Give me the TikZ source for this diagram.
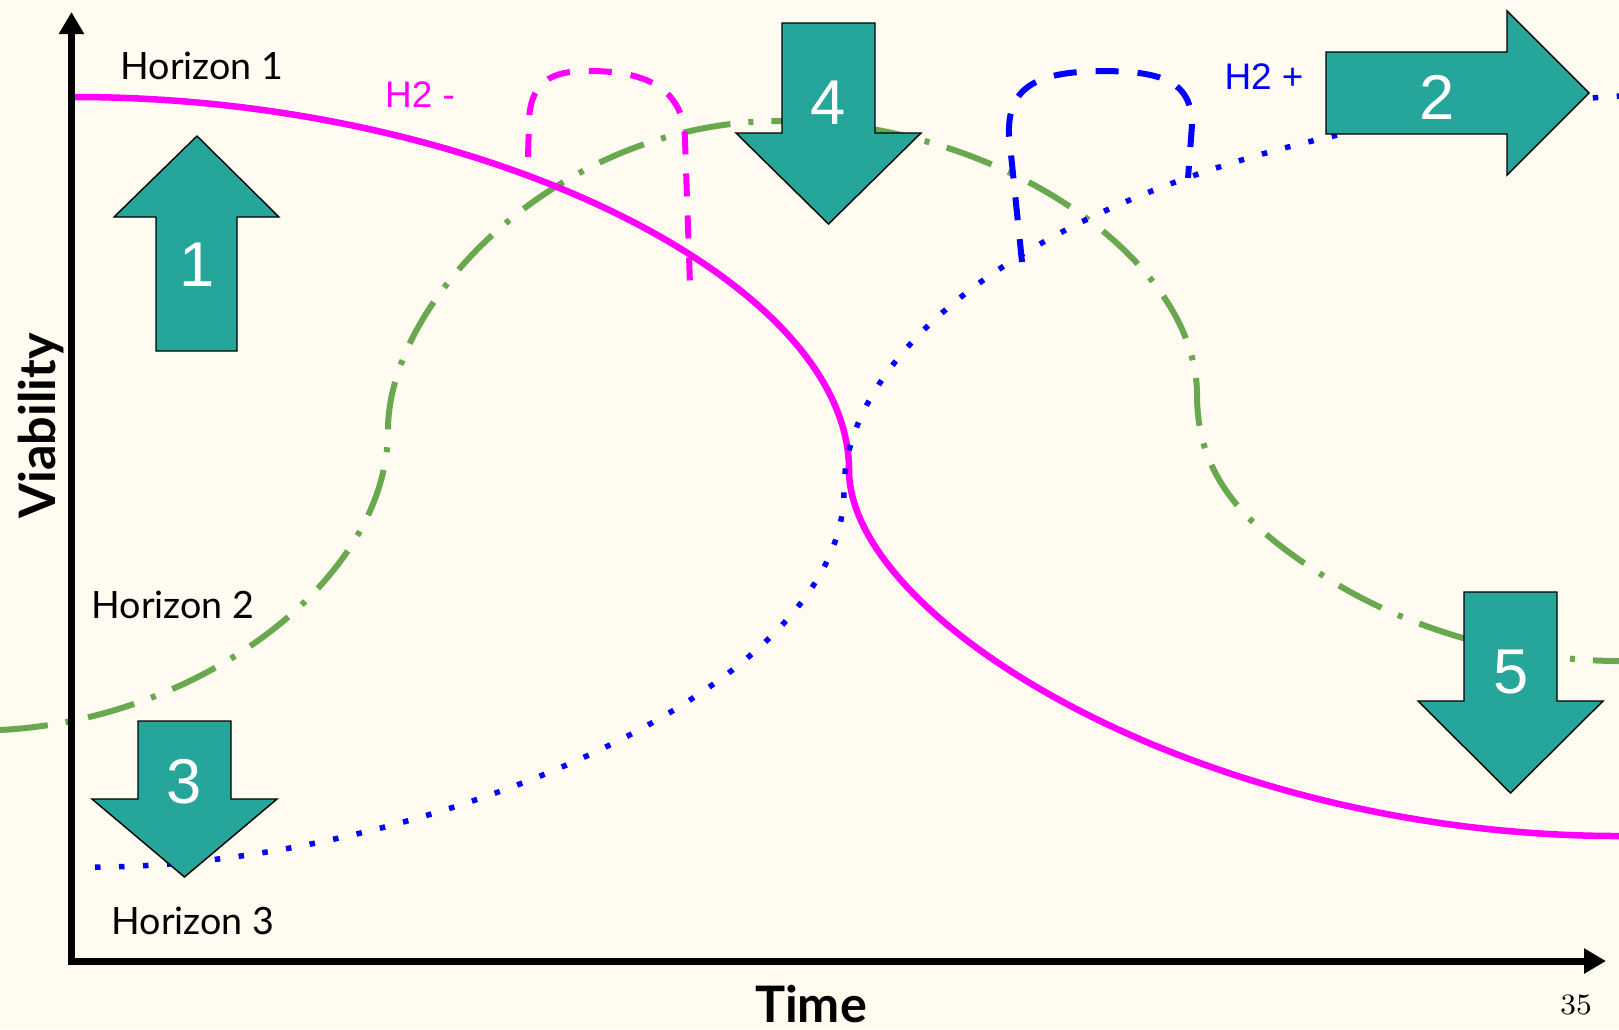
\documentclass[tikz,border=0pt]{standalone}
\usepackage{fontspec}
\usepackage{xcolor}
\usepackage{tikz}
\usetikzlibrary{arrows.meta}
\newfontfamily\latofont{Lato}
\newfontfamily\arialfont{Liberation Sans}
\definecolor{bgcream}{RGB}{255,251,240}
\definecolor{arrowteal}{RGB}{38,166,154}
\definecolor{htwogreen}{RGB}{106,168,79}
\definecolor{honemag}{RGB}{255,0,255}
\definecolor{hthreeblue}{RGB}{0,0,255}
\begin{document}
\begin{tikzpicture}[
    x=0.01cm, y=-0.01cm,
    axis/.style={black, line width=0.07cm},
    hone/.style={honemag, line width=0.065cm},
    htwo/.style={htwogreen, line width=0.06cm, dash pattern=on 0.48cm off 0.18cm on 0.05cm off 0.18cm},
    hthree/.style={hthreeblue, line width=0.055cm, dash pattern=on 0.055cm off 0.185cm},
    htwominus/.style={honemag, line width=0.06cm, dash pattern=on 0.23cm off 0.19cm},
    htwoplus/.style={hthreeblue, line width=0.06cm, dash pattern=on 0.23cm off 0.19cm},
    block/.style={draw=black, line width=0.4pt, fill=arrowteal, line join=miter},
    num/.style={text=white, inner sep=0pt, font=\arialfont\fontsize{18}{20}\selectfont},
    hlabel/.style={inner sep=0pt, font=\latofont\fontsize{10.7}{12}\selectfont},
    hsign/.style={inner sep=0pt, font=\arialfont\fontsize{10.5}{12}\selectfont},
    axislabel/.style={inner sep=0pt, font=\latofont\bfseries\fontsize{14.3}{16}\selectfont}
]
\fill[bgcream] (0,0) rectangle (1619,1029);
\useasboundingbox (0,0) rectangle (1619,1029);
\draw[htwo] (0,730) .. controls (200,720) and (388,580) .. (388,430)
    .. controls (388,300) and (560,121) .. (780,121)
    .. controls (1000,121) and (1197,260) .. (1197,395)
    .. controls (1197,480) and (1250,530) .. (1330,580)
    .. controls (1410,630) and (1520,661) .. (1619,661);
\draw[hone] (75,97) .. controls (480,97) and (849,280) .. (849,470)
    .. controls (849,620) and (1200,836) .. (1619,836);
\draw[hthree] (95,867) .. controls (400,867) and (844,700) .. (844,490)
    .. controls (844,330) and (1100,130) .. (1619,96);
\draw[htwominus] (528,157) -- (529,120) .. controls (531,75) and (560,71) .. (590,71)
    .. controls (640,71) and (684,85) .. (685,140) -- (690,285);
\draw[htwoplus] (1022,262) -- (1009,135) .. controls (1007,85) and (1040,72) .. (1100,71)
    .. controls (1160,71) and (1192,80) .. (1192,125) -- (1188,178);
\coordinate (o) at (71.5,961);
\coordinate (ytip) at (71.5,12);
\coordinate (xstart) at (67.5,961);
\coordinate (xtip) at (1606,961);
\draw[axis, -{Triangle[length=0.22cm, width=0.24cm]}] (o) -- (ytip);
\draw[axis, -{Triangle[length=0.22cm, width=0.24cm]}] (xstart) -- (xtip);
\draw[block] (156,351) -- (156,217) -- (114,217) -- (197,136) -- (279,217) -- (237,217) -- (237,351) -- cycle;
\draw[block] (1326,52) -- (1507,52) -- (1507,11) -- (1589,93) -- (1507,175) -- (1507,134) -- (1326,134) -- cycle;
\draw[block] (138,721) -- (231,721) -- (231,799) -- (277,799) -- (184.5,877) -- (92,799) -- (138,799) -- cycle;
\draw[block] (782,23) -- (875,23) -- (875,133) -- (921,133) -- (828.5,224) -- (736,133) -- (782,133) -- cycle;
\draw[block] (1464,592) -- (1557,592) -- (1557,701) -- (1603,701) -- (1510.5,793) -- (1418,701) -- (1464,701) -- cycle;
\node[num] (n1) at (197,265) {1};
\node[num] (n2) at (1437,97) {2};
\node[num] (n3) at (184,782) {3};
\node[num] (n4) at (828,103) {4};
\node[num] (n5) at (1511,672) {5};
\node[hlabel] (hor1) at (202,66) {Horizon 1};
\node[hlabel] (hor2) at (173,605) {Horizon 2};
\node[hlabel] (hor3) at (193,921) {Horizon 3};
\node[hsign, text=honemag] (hminus) at (420,95) {H2 -};
\node[hsign, text=hthreeblue] (hplus) at (1264,77) {H2 +};
\node[axislabel, rotate=90] (vlab) at (41.5,426) {Viability};
\node[axislabel, anchor=north] (tlab) at (811,984) {Time};
\node[inner sep=0pt, font=\fontsize{8.4}{10}\selectfont] (page) at (1576,1004.5) {35};
\end{tikzpicture}
\end{document}
